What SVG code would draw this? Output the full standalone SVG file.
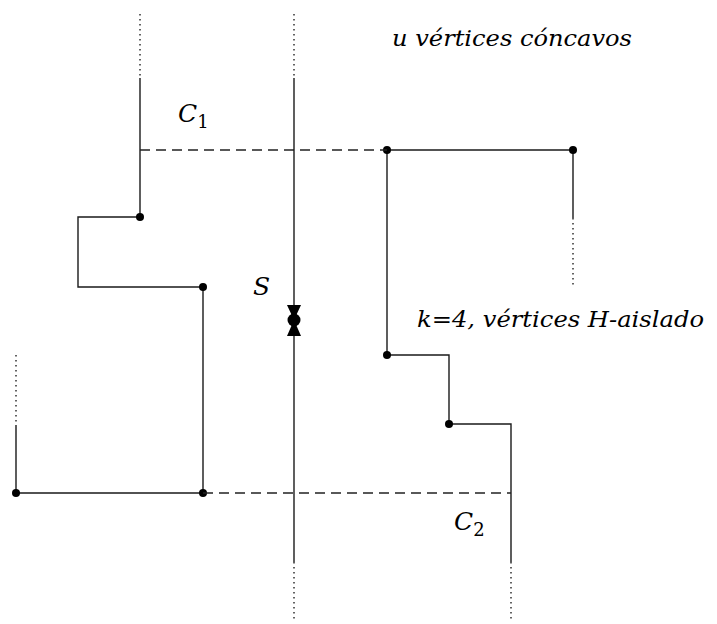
<svg xmlns="http://www.w3.org/2000/svg" width="717" height="624" viewBox="0 0 717 624">
<style>
.s{stroke:#1a1a1a;stroke-width:1.4;fill:none}
.d{stroke:#222;stroke-width:1.4;fill:none;stroke-dasharray:10 6}
.o{stroke:#222;stroke-width:1.4;fill:none;stroke-dasharray:1.4 3.6}
.v{fill:#000}
text{font-family:'DejaVu Serif','Liberation Serif',serif;fill:#000}
.t{font-style:italic;font-size:25px}
.l{font-style:italic;font-size:23px}
.sub{font-style:normal;font-size:18px}
</style>
<rect width="717" height="624" fill="#fff"/>
<g id="left-polygon">
<line class="o" x1="140" y1="14" x2="140" y2="78"/>
<polyline class="s" points="140,78 140,217 78,217 78,287 203,287 203,493 16,493 16,425"/>
<line class="o" x1="16" y1="355" x2="16" y2="425"/>
<circle class="v" cx="140" cy="217" r="4"/>
<circle class="v" cx="203" cy="287" r="4"/>
<circle class="v" cx="203" cy="493" r="4"/>
<circle class="v" cx="16" cy="493" r="4"/>
</g>
<g id="right-polygon">
<polyline class="s" points="573,218 573,150 387,150 387,355 449,355 449,424 511,424 511,562"/>
<line class="o" x1="573" y1="218" x2="573" y2="285"/>
<line class="o" x1="511" y1="562" x2="511" y2="622"/>
<circle class="v" cx="387" cy="150" r="4"/>
<circle class="v" cx="573" cy="150" r="4"/>
<circle class="v" cx="387" cy="355" r="4"/>
<circle class="v" cx="449" cy="424" r="4"/>
</g>
<g id="connectors">
<line class="d" x1="140" y1="150" x2="387" y2="150"/>
<line class="d" x1="203" y1="493" x2="511" y2="493"/>
</g>
<g id="S">
<line class="o" x1="294" y1="14" x2="294" y2="78"/>
<line class="s" x1="294" y1="78" x2="294" y2="562"/>
<line class="o" x1="294" y1="562" x2="294" y2="622"/>
<polygon class="v" points="287,305 301,305 294,320"/>
<polygon class="v" points="287,336 301,336 294,320"/>
<circle class="v" cx="294" cy="320" r="6.5"/>
<text class="t" x="253" y="295">S</text>
</g>
<g id="labels">
<text class="t" x="178" y="122">C<tspan class="sub" dy="6">1</tspan></text>
<text class="t" x="454" y="530">C<tspan class="sub" dy="6">2</tspan></text>
<text class="l" x="392" y="46" textLength="240" lengthAdjust="spacingAndGlyphs">u vértices cóncavos</text>
<text class="l" x="417" y="327" textLength="287" lengthAdjust="spacingAndGlyphs">k=4, vértices H-aislado</text>
</g>
</svg>
